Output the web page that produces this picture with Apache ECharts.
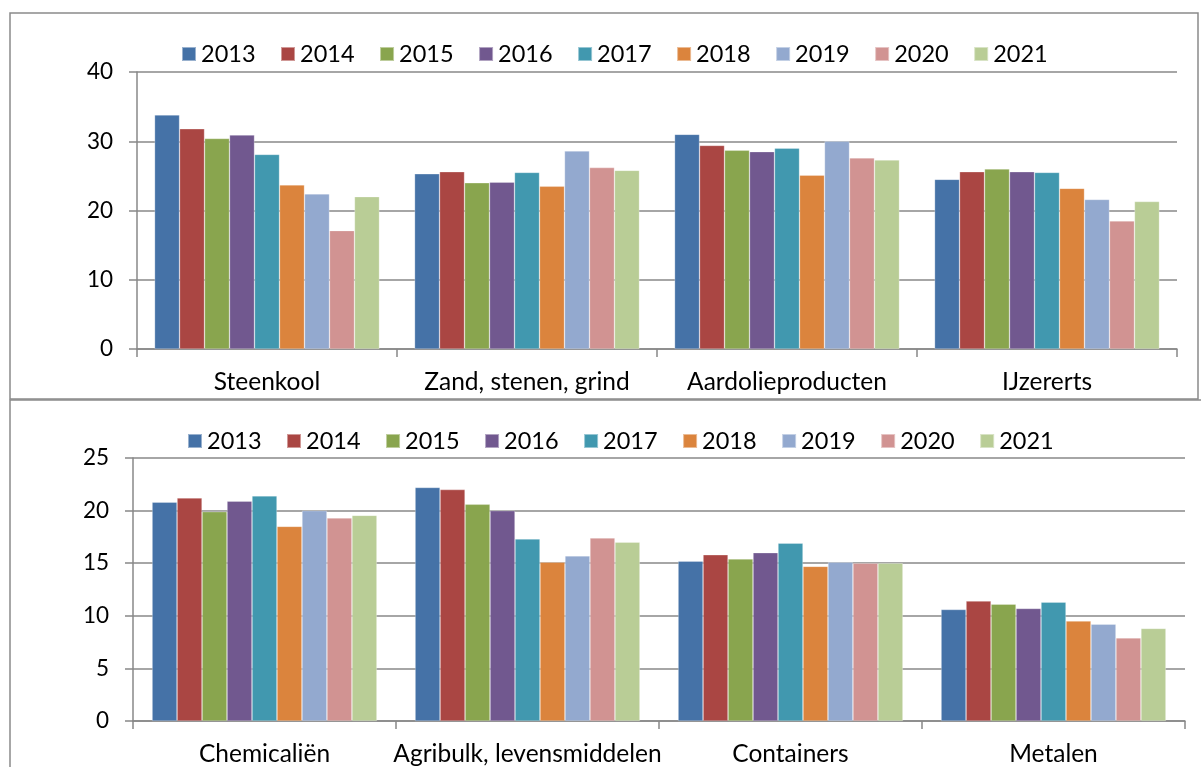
<!DOCTYPE html>
<html>
<head>
<meta charset="utf-8">
<script src="https://cdn.jsdelivr.net/npm/echarts@6/dist/echarts.min.js"></script>
<style>
html,body{margin:0;padding:0;background:#fff;}
#chart{width:1201px;height:767px;}
</style>
</head>
<body>
<div id="chart"></div>
<script>
const years = ['2013','2014','2015','2016','2017','2018','2019','2020','2021'];
const colors = ['#4572A7','#AA4643','#89A54E','#71588F','#4198AF','#DB843D','#93A9CF','#D19392','#B9CD96'];

const topCategories = ['Steenkool','Zand, stenen, grind','Aardolieproducten','IJzererts'];
const bottomCategories = ['Chemicaliën','Agribulk, levensmiddelen','Containers','Metalen'];

// values per year: [cat1, cat2, cat3, cat4]
const top2013 = [33.8, 25.3, 31.0, 24.5];
const top2014 = [31.8, 25.6, 29.4, 25.6];
const top2015 = [30.4, 24.0, 28.7, 26.0];
const top2016 = [30.9, 24.1, 28.5, 25.6];
const top2017 = [28.1, 25.5, 29.0, 25.5];
const top2018 = [23.7, 23.5, 25.1, 23.2];
const top2019 = [22.4, 28.6, 30.0, 21.6];
const top2020 = [17.1, 26.2, 27.6, 18.5];
const top2021 = [22.0, 25.8, 27.3, 21.3];

const bot2013 = [20.8, 22.2, 15.2, 10.6];
const bot2014 = [21.2, 22.0, 15.8, 11.4];
const bot2015 = [19.9, 20.6, 15.4, 11.1];
const bot2016 = [20.9, 20.0, 16.0, 10.7];
const bot2017 = [21.4, 17.3, 16.9, 11.3];
const bot2018 = [18.5, 15.1, 14.7, 9.5];
const bot2019 = [20.0, 15.7, 15.1, 9.2];
const bot2020 = [19.3, 17.4, 15.0, 7.9];
const bot2021 = [19.55, 17.0, 15.0, 8.8];

const topTicks = {min:0, max:40, interval:10};
const bottomTicks = {min:0, max:25, interval:5};

const topValues = [top2013,top2014,top2015,top2016,top2017,top2018,top2019,top2020,top2021];
const botValues = [bot2013,bot2014,bot2015,bot2016,bot2017,bot2018,bot2019,bot2020,bot2021];

const FONT = 'Lato';
const GRAY = '#888888';

function xAxis(gridIndex, cats){
  return {
    type:'category', gridIndex, data:cats,
    axisLine:{show:true, lineStyle:{color:GRAY, width:1.5}},
    axisTick:{show:true, length:8, lineStyle:{color:GRAY, width:1.5}},
    axisLabel:{color:'#000', fontFamily:FONT, fontSize:24.5, margin:21, interval:0}
  };
}
function yAxis(gridIndex, t){
  return {
    type:'value', gridIndex, min:t.min, max:t.max, interval:t.interval,
    axisLine:{show:true, lineStyle:{color:GRAY, width:1.5}},
    axisTick:{show:true, length:8, lineStyle:{color:GRAY, width:1.5}},
    splitLine:{show:true, lineStyle:{color:GRAY, width:1.5}},
    axisLabel:{color:'#000', fontFamily:FONT, fontSize:22.5, margin:24}
  };
}

const series = [];
years.forEach((y,i)=>{
  series.push({name:y, type:'bar', xAxisIndex:0, yAxisIndex:0, data:topValues[i],
    barGap:'0%', barCategoryGap:'13.5%', itemStyle:{color:colors[i], borderColor:'rgba(255,255,255,0.45)', borderWidth:0.6}});
});
years.forEach((y,i)=>{
  series.push({name:y, type:'bar', xAxisIndex:1, yAxisIndex:1, data:botValues[i],
    barGap:'0%', barCategoryGap:'14.5%', itemStyle:{color:colors[i], borderColor:'rgba(255,255,255,0.45)', borderWidth:0.6}});
});

const legendCommon = {
  data: years, orient:'horizontal', itemWidth:14, itemHeight:14, itemGap:24.5, padding:0,
  icon:'rect', textStyle:{color:'#000', fontFamily:FONT, fontSize:23.5}, selectedMode:false
};

const option = {
  animation:false,
  color:colors,
  graphic:[
    {type:'rect', shape:{x:10, y:13, width:1188, height:386}, style:{fill:'none', stroke:'#8a8a8a', lineWidth:1.5}, silent:true, z:-10},
    {type:'rect', shape:{x:10, y:400, width:1200, height:380}, style:{fill:'none', stroke:'#8a8a8a', lineWidth:1.5}, silent:true, z:-10}
  ],
  legend:[
    Object.assign({left:181, top:42}, legendCommon),
    Object.assign({left:187, top:429}, legendCommon)
  ],
  grid:[
    {left:137, right:24, top:72, height:277, containLabel:false},
    {left:133, right:16, top:458, height:265, containLabel:false}
  ],
  xAxis:[xAxis(0, topCategories), xAxis(1, bottomCategories)],
  yAxis:[yAxis(0, topTicks), yAxis(1, bottomTicks)],
  series
};

const chart = echarts.init(document.getElementById('chart'), null, {renderer:'canvas'});
chart.setOption(option);
</script>
</body>
</html>
